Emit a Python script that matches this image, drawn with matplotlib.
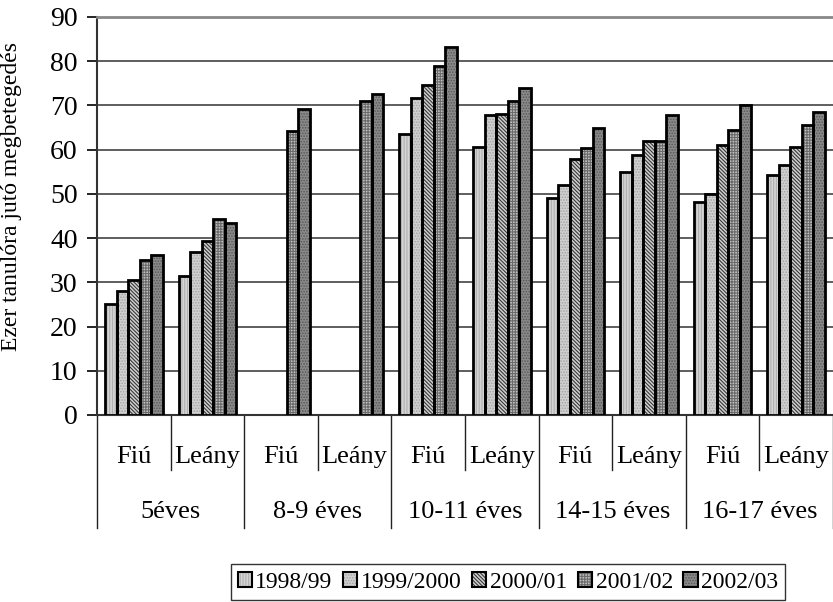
import matplotlib
matplotlib.use('Agg')
import matplotlib.pyplot as plt
from matplotlib.patches import Patch
from matplotlib.lines import Line2D
from matplotlib.transforms import blended_transform_factory

plt.rcParams['font.family'] = ['Liberation Serif', 'DejaVu Serif']
plt.rcParams['hatch.linewidth'] = 0.8

groups = ['5éves', '8-9 éves', '10-11 éves', '14-15 éves', '16-17 éves']
sexes = ['Fiú', 'Leány']
series = ['1998/99', '1999/2000', '2000/01', '2001/02', '2002/03']

v_1998 = [25.0, 31.5, None, None, 63.6, 60.7, 49.0, 55.0, 48.1, 54.2]
v_1999 = [28.0, 36.8, None, None, 71.7, 67.8, 51.9, 58.8, 49.9, 56.5]
v_2000 = [30.5, 39.3, None, None, 74.6, 68.0, 58.0, 62.0, 61.0, 60.7]
v_2001 = [35.0, 44.3, 64.3, 70.9, 78.9, 71.0, 60.3, 62.0, 64.4, 65.5]
v_2002 = [36.1, 43.5, 69.1, 72.7, 83.3, 73.9, 64.9, 67.8, 70.1, 68.6]
values = [v_1998, v_1999, v_2000, v_2001, v_2002]

yticks = [0, 10, 20, 30, 40, 50, 60, 70, 80, 90]
ylabel = 'Ezer tanulóra jutó megbetegedés'

styles = [
    dict(fc='#d4d4d4', hatch='||||||', hc='#b0b0b0'),
    dict(fc='#d0d0d0', hatch='......', hc='#a4a4a4'),
    dict(fc='#d0d0d0', hatch='\\\\\\\\\\\\\\\\\\', hc='#383838'),
    dict(fc='#c0c0c0', hatch='++++++', hc='#6a6a6a'),
    dict(fc='#8a8a8a', hatch='......', hc='#585858'),
]

fig = plt.figure(figsize=(8.33, 6.02), dpi=100)
ax = fig.add_axes([97/833, 187/602, 736/833, 398/602])

ncat = len(groups) * len(sexes)
bw = 0.156
for j, (vals, st) in enumerate(zip(values, styles)):
    xs = [i + 0.5 + (j - 2) * bw for i, v in enumerate(vals) if v is not None]
    hs = [v for v in vals if v is not None]
    ax.bar(xs, hs, width=bw, facecolor=st['fc'], hatch=st['hatch'],
           edgecolor=st['hc'], linewidth=0, zorder=3)
    ax.bar(xs, hs, width=bw, fill=False, edgecolor='black', linewidth=2.0, zorder=4)

ax.set_xlim(0, ncat)
ax.set_ylim(0, 90)
ax.set_yticks(yticks)
ax.set_yticklabels([str(t) for t in yticks], fontsize=20)
ax.tick_params(axis='y', direction='out', length=7, width=1.2, pad=7)
ax.set_xticks([])
ax.grid(axis='y', color='#333333', linewidth=1.1, zorder=0)
ax.set_axisbelow(True)
ax.spines['right'].set_visible(False)
ax.spines['top'].set_color('#888888')
ax.spines['top'].set_linewidth(2.0)
ax.spines['left'].set_linewidth(1.5)
ax.spines['left'].set_color('#333333')
ax.spines['bottom'].set_linewidth(1.5)
ax.spines['bottom'].set_color('#333333')

ax.set_ylabel(ylabel, fontsize=17)
ax.yaxis.set_label_coords(-0.102, 0.548)

trans = blended_transform_factory(ax.transData, ax.transAxes)
inner_y = (415 - 470) / 398
outer_y = (415 - 528) / 398
for k in range(ncat + 1):
    y0 = outer_y if k % 2 == 0 else inner_y
    ax.add_line(Line2D([k, k], [0, y0], transform=trans, color='#222222',
                       linewidth=1.0, clip_on=False))
for i in range(ncat):
    ax.text(i + 0.5, (415 - 457) / 398, sexes[i % 2], transform=trans,
            ha='center', va='center', fontsize=19)
for g, name in enumerate(groups):
    ax.text(2 * g + 1, (415 - 512) / 398, name, transform=trans,
            ha='center', va='center', fontsize=19)

handles = []
for st in styles:
    handles.append((Patch(facecolor=st['fc'], hatch=st['hatch'], edgecolor=st['hc'], linewidth=0),
                    Patch(fill=False, edgecolor='black', linewidth=1.5)))
leg = fig.legend(handles, series, loc='center', bbox_to_anchor=(508/833, 1 - 582/602),
                 ncol=5, fontsize=17, frameon=True, fancybox=False, edgecolor='black',
                 handlelength=0.6, handleheight=0.6, handletextpad=0.15,
                 columnspacing=0.45, borderpad=0.3, borderaxespad=0)
leg.get_frame().set_linewidth(1.0)

fig.savefig('out.png', dpi=100)
